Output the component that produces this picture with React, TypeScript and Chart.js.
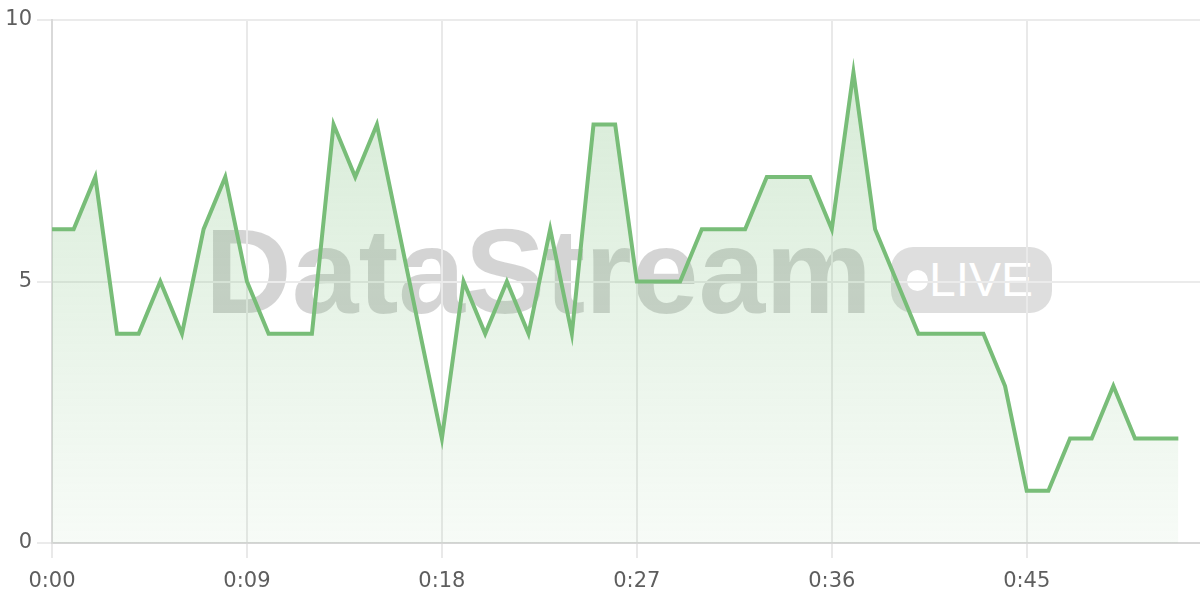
import { useEffect, useRef } from 'react'
import Chart from 'chart.js/auto'

// one reading per second, 0:00 .. 0:52
const readings = [
  6, 6, 7, 4, 4, 5, 4, 6, 7, 5,
  4, 4, 4, 8, 7, 8, 6, 4, 2, 5,
  4, 5, 4, 6, 4, 8, 8, 5, 5, 5,
  6, 6, 6, 7, 7, 7, 6, 9, 6, 5,
  4, 4, 4, 4, 3, 1, 1, 2, 2, 3,
  2, 2, 2,
]
// axis runs one second past the last reading
const seconds = Array.from({ length: readings.length + 1 }, (_, i) => i)
const tickEvery = 9
const yTicks = [0, 5, 10]

const lineColor = 'rgb(120, 189, 120)'
const fontFamily = "'DejaVu Sans', sans-serif"

const fmt = (s: number) => `${Math.floor(s / 60)}:${String(s % 60).padStart(2, '0')}`

export default function App() {
  const chartRef = useRef<HTMLCanvasElement>(null)

  useEffect(() => {
    if (!chartRef.current) return
    const ctx = chartRef.current.getContext('2d')
    if (!ctx) return

    const chart = new Chart(ctx, {
      type: 'line',
      data: {
        labels: seconds.map(fmt),
        datasets: [
          {
            label: 'DataStream',
            data: readings,
            borderColor: lineColor,
            borderWidth: 4,
            tension: 0,
            pointRadius: 0,
            fill: 'origin',
            backgroundColor: (c) => {
              const area = c.chart.chartArea
              if (!area) return 'rgba(120,189,120,0.15)'
              const g = c.chart.ctx.createLinearGradient(0, area.top, 0, area.bottom)
              g.addColorStop(0, 'rgba(120,189,120,0.32)')
              g.addColorStop(1, 'rgba(120,189,120,0.06)')
              return g
            },
          },
        ],
      },
      options: {
        animation: false,
        responsive: true,
        maintainAspectRatio: false,
        layout: { padding: { top: 20, right: 0, left: 0, bottom: 0 } },
        plugins: {
          legend: { display: false },
          tooltip: { enabled: false },
        },
        scales: {
          x: {
            type: 'category',
            offset: false,
            afterFit: (s) => {
              s.height = 57
              s.paddingRight = 0
            },
            grid: {
              color: (c) => (c.index % tickEvery === 0 && c.index < readings.length ? '#e9e9e9' : 'transparent'),
              tickLength: 15,
              lineWidth: 2,
            },
            border: { color: '#d6d6d6', width: 2 },
            ticks: {
              autoSkip: false,
              maxRotation: 0,
              padding: 11,
              color: '#5e5e5e',
              font: { family: fontFamily, size: 21 },
              callback: (v) => {
                const i = Number(v)
                return i % tickEvery === 0 && i < readings.length ? fmt(i) : ''
              },
            },
          },
          y: {
            min: yTicks[0],
            max: yTicks[yTicks.length - 1],
            afterFit: (s) => {
              s.width = 52
              s.paddingTop = 0
            },
            afterBuildTicks: (s) => {
              s.ticks = yTicks.map((value) => ({ value }))
            },
            grid: { color: '#ebebeb', tickLength: 15, lineWidth: 2 },
            border: { color: '#d9d9d9', width: 2 },
            ticks: {
              padding: 5,
              color: '#5e5e5e',
              font: { family: fontFamily, size: 21 },
            },
          },
        },
      },
    })

    return () => chart.destroy()
  }, [])

  return (
    <div style={{ position: 'fixed', left: 0, top: 0, width: 1200, height: 600, background: '#fff' }}>
      <div
        style={{
          position: 'absolute',
          left: 205,
          top: 211,
          fontFamily: "'Liberation Sans', Arial, sans-serif",
          fontWeight: 700,
          fontSize: 120,
          lineHeight: 1,
          color: 'rgba(0,0,0,0.17)',
          whiteSpace: 'nowrap',
        }}
      >
        DataStream
      </div>
      <div
        style={{
          position: 'absolute',
          left: 891,
          top: 247,
          width: 161,
          height: 66,
          borderRadius: 22,
          background: 'rgba(0,0,0,0.13)',
          display: 'flex',
          alignItems: 'center',
          color: '#fff',
          fontFamily: "'Liberation Sans', Arial, sans-serif",
          fontSize: 48,
          lineHeight: 1,
        }}
      >
        <span
          style={{
            display: 'inline-block',
            width: 21,
            height: 21,
            borderRadius: '50%',
            background: '#fff',
            marginLeft: 16,
            marginRight: 1,
          }}
        />
        <span>LIVE</span>
      </div>
      <canvas ref={chartRef} style={{ position: 'absolute', left: 0, top: 0 }} />
    </div>
  )
}
